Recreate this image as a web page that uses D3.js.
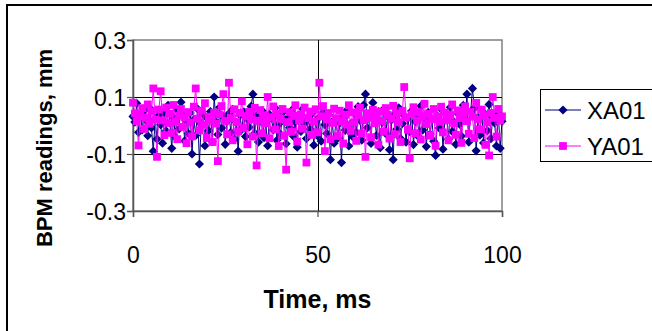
<!DOCTYPE html>
<html>
<head>
<meta charset="utf-8">
<script src="https://cdn.jsdelivr.net/npm/d3@7"></script>
<style>
  html, body { margin: 0; padding: 0; background: #fff; }
  svg { display: block; font-family: "Liberation Sans", Arial, sans-serif; }
</style>
</head>
<body>
<svg id="chart" width="652" height="331"></svg>
<script>
// Sample times (ms): 201 samples, 0.5 ms apart
const timeStart = 0;
const timeStep = 0.5;

// Horizontal BPM reading (mm)
const xa01 = [
  0.032, 0.012, 0.078, -0.024, 0.041, -0.015, 0.052, 0.018, -0.036, 0.061,
  -0.008, -0.090, 0.024, -0.047, 0.035, 0.003, -0.062, 0.046, -0.019, 0.071,
  0.009, -0.080, 0.028, -0.041, 0.055, -0.012, 0.082, 0.037, -0.054, 0.015,
  -0.028, 0.044, -0.100, 0.021, -0.035, 0.058, -0.135, 0.006, 0.039, -0.071,
  0.027, -0.018, 0.049, -0.057, 0.100, 0.013, -0.032, 0.064, -0.009, 0.031,
  -0.066, 0.018, 0.042, -0.024, 0.057, -0.048, 0.011, -0.090, 0.036, -0.014,
  0.048, -0.039, 0.022, -0.006, 0.067, 0.110, -0.027, 0.034, -0.058, 0.016,
  0.052, -0.043, 0.008, -0.071, 0.039, 0.026, -0.015, 0.061, -0.052, 0.004,
  -0.031, 0.045, 0.019, -0.064, 0.028, -0.007, 0.053, -0.038, 0.012, -0.076,
  0.034, -0.021, 0.058, 0.007, -0.046, 0.025, -0.013, 0.042, -0.069, 0.017,
  -0.036, 0.029, -0.055, 0.046, 0.003, -0.028, 0.038, -0.120, 0.014, -0.062,
  0.022, -0.044, 0.009, -0.130, 0.031, -0.017, 0.054, -0.072, 0.006, -0.039,
  0.043, -0.024, 0.066, 0.018, -0.051, 0.072, 0.110, -0.008, 0.037, -0.063,
  0.080, 0.024, -0.035, 0.049, -0.078, 0.011, 0.058, -0.029, 0.033, -0.085,
  0.019, -0.120, 0.041, -0.013, 0.062, -0.046, 0.007, 0.035, -0.058, 0.026,
  -0.022, 0.051, -0.067, 0.014, 0.039, -0.041, 0.068, -0.016, 0.029, -0.074,
  0.046, -0.031, 0.021, -0.055, -0.105, 0.033, -0.009, 0.057, -0.083, 0.018,
  0.037, -0.048, 0.064, -0.021, 0.012, -0.066, 0.043, 0.005, -0.037, 0.071,
  0.024, 0.110, -0.058, 0.047, 0.130, 0.061, -0.089, 0.028, -0.034, 0.052,
  -0.061, 0.039, -0.018, 0.074, -0.046, 0.031, 0.009, -0.072, 0.044, -0.080,
  0.015
];

// Vertical BPM reading (mm)
const ya01 = [
  0.080, 0.042, 0.015, -0.070, 0.038, 0.061, -0.012, 0.027, 0.074, 0.006,
  0.049, 0.130, 0.021, -0.110, 0.056, 0.120, 0.018, -0.034, 0.063, 0.009,
  0.041, -0.026, 0.072, 0.014, -0.048, 0.035, 0.058, -0.005, 0.029, -0.062,
  0.047, 0.011, -0.038, 0.066, 0.130, 0.024, -0.017, 0.052, 0.003, 0.078,
  -0.044, 0.031, 0.019, -0.058, 0.045, 0.007, -0.125, 0.039, 0.068, 0.110,
  0.016, -0.031, 0.150, 0.026, -0.052, 0.057, 0.012, -0.021, 0.044, 0.085,
  -0.009, 0.033, -0.066, 0.048, 0.021, -0.039, 0.062, -0.140, 0.017, 0.054,
  -0.027, 0.036, 0.008, 0.100, -0.045, 0.029, 0.067, -0.014, 0.041, -0.072,
  0.023, 0.058, -0.036, -0.155, 0.012, 0.047, -0.022, 0.034, 0.071, -0.056,
  0.018, 0.039, -0.011, 0.063, -0.130, 0.026, 0.049, -0.033, 0.014, 0.057,
  -0.024, 0.150, 0.032, 0.068, -0.090, 0.021, 0.044, -0.048, 0.009, 0.059,
  0.025, -0.037, 0.052, 0.014, -0.063, 0.038, 0.003, 0.071, -0.019, 0.046,
  0.011, -0.054, 0.036, 0.062, -0.028, 0.019, -0.110, 0.043, 0.027, -0.041,
  0.055, 0.008, 0.033, -0.067, 0.049, 0.016, -0.022, 0.061, 0.037, -0.046,
  0.024, 0.069, -0.031, 0.042, 0.012, -0.058, 0.051, 0.135, 0.028, -0.015,
  -0.115, 0.039, 0.064, -0.027, 0.018, 0.047, -0.049, 0.033, 0.076, 0.005,
  0.041, -0.036, 0.022, 0.058, -0.071, 0.031, 0.013, 0.066, -0.024, 0.045,
  0.019, -0.052, 0.037, 0.074, 0.008, -0.033, 0.053, 0.026, -0.061, 0.042,
  0.067, 0.015, -0.029, 0.048, 0.031, -0.044, 0.079, 0.022, -0.013, 0.056,
  0.036, -0.068, 0.011, -0.105, 0.044, 0.100, 0.027, -0.039, 0.058, 0.017,
  0.032
];

const xTicks = [0, 50, 100];
const yTicks = [-0.3, -0.1, 0.1, 0.3];
const seriesNames = ["XA01", "YA01"];
const seriesColors = ["#000080", "#ff00ff"];
const xTitle = "Time, ms";
const yTitle = "BPM readings, mm";

const svg = d3.select("#chart");

// Outer chart frame
svg.append("path")
  .attr("d", "M7,331V5H652")
  .attr("fill", "none")
  .attr("stroke", "#000")
  .attr("stroke-width", 2);

const plot = { left: 133, right: 502, top: 40, bottom: 211 };
const x = d3.scaleLinear().domain([0, 100]).range([plot.left, plot.right]);
const y = d3.scaleLinear().domain([-0.3, 0.3]).range([plot.bottom, plot.top]);

// Plot area border
svg.append("rect")
  .attr("x", plot.left).attr("y", plot.top)
  .attr("width", plot.right - plot.left).attr("height", plot.bottom - plot.top)
  .attr("fill", "none").attr("stroke", "#808080").attr("stroke-width", 1.5);

// Major gridlines
const grid = svg.append("g").attr("stroke", "#000").attr("stroke-width", 1);
grid.selectAll("line.h").data([-0.1, 0.1]).join("line")
  .attr("x1", plot.left).attr("x2", plot.right)
  .attr("y1", d => Math.round(y(d)) + 0.5).attr("y2", d => Math.round(y(d)) + 0.5);
grid.selectAll("line.v").data([50]).join("line")
  .attr("y1", plot.top).attr("y2", plot.bottom)
  .attr("x1", d => Math.round(x(d)) + 0.5).attr("x2", d => Math.round(x(d)) + 0.5);

// Axes
const fmt = d => d === 0 ? "0" : d.toFixed(1);
const yAxis = svg.append("g")
  .attr("transform", `translate(${plot.left},0)`)
  .call(d3.axisLeft(y).tickValues(yTicks).tickFormat(fmt).tickSize(6).tickPadding(1));
const xAxis = svg.append("g")
  .attr("transform", `translate(0,${plot.bottom})`)
  .call(d3.axisBottom(x).tickValues(xTicks).tickFormat(d => String(d)).tickSize(6));

[yAxis, xAxis].forEach(g => {
  g.select(".domain").attr("stroke", "#555").attr("stroke-width", 1.5);
  g.selectAll(".tick line").attr("stroke", "#555").attr("stroke-width", 1.2);
  g.selectAll("text").attr("fill", "#000").attr("font-size", 23)
    .attr("font-family", "'Liberation Sans', Arial, sans-serif");
});
yAxis.selectAll("text").attr("dy", "0.36em");
xAxis.selectAll("text").attr("y", 52).attr("dy", 0);

// Axis titles
svg.append("text")
  .attr("x", (plot.left + plot.right) / 2).attr("y", 308)
  .attr("text-anchor", "middle").attr("font-weight", "bold").attr("font-size", 25)
  .text(xTitle);
svg.append("text")
  .attr("transform", "translate(52,148) rotate(-90)")
  .attr("text-anchor", "middle").attr("font-weight", "bold").attr("font-size", 22)
  .text(yTitle);

// Markers: diamond (square turned 45°) and square
const diamondPath = r => `M0,${-r}L${r},0L0,${r}L${-r},0Z`;
const squarePath = h => `M${-h},${-h}H${h}V${h}H${-h}Z`;
const markers = [diamondPath(4.6), squarePath(3.9)];

// Series
const seriesData = [xa01, ya01].map(vals => vals.map((v, i) => ({ t: timeStart + i * timeStep, v })));
const line = d3.line().x(d => x(d.t)).y(d => y(d.v));

seriesData.forEach((data, k) => {
  const g = svg.append("g");
  g.append("path").datum(data)
    .attr("d", line).attr("fill", "none")
    .attr("stroke", seriesColors[k]).attr("stroke-width", 1);
  g.selectAll("path.m").data(data).join("path")
    .attr("class", "m")
    .attr("transform", d => `translate(${x(d.t)},${y(d.v)})`)
    .attr("d", markers[k])
    .attr("fill", seriesColors[k]);
});

// Legend
const legend = svg.append("g");
legend.append("rect")
  .attr("x", 540.5).attr("y", 89.5).attr("width", 130).attr("height", 72)
  .attr("fill", "#fff").attr("stroke", "#000").attr("stroke-width", 1);
seriesNames.forEach((name, k) => {
  const cy = 110 + k * 36;
  legend.append("line")
    .attr("x1", 545).attr("x2", 581).attr("y1", cy).attr("y2", cy)
    .attr("stroke", seriesColors[k]).attr("stroke-width", 1.2);
  legend.append("path")
    .attr("transform", `translate(563,${cy})`)
    .attr("d", markers[k])
    .attr("fill", seriesColors[k]);
  legend.append("text")
    .attr("x", 587).attr("y", cy).attr("dy", "0.36em")
    .attr("font-size", 24).text(name);
});
</script>
</body>
</html>
